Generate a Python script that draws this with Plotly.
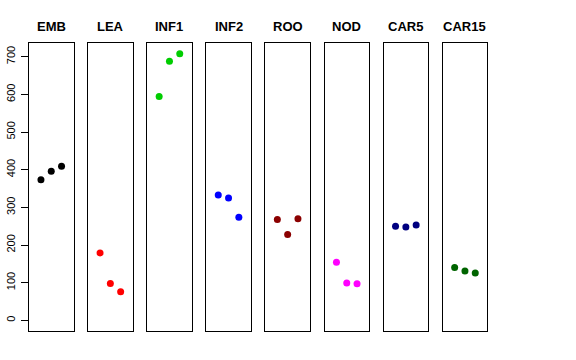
import plotly.graph_objects as go

categories = ["EMB", "LEA", "INF1", "INF2", "ROO", "NOD", "CAR5", "CAR15"]
colors = ["#000000", "#FF0000", "#00CD00", "#0000FF", "#8B0000", "#FF00FF", "#000080", "#006400"]
rep_x = [1, 2, 3]
values = {
    "EMB": [373, 396, 409],
    "LEA": [179, 98, 76],
    "INF1": [594, 688, 708],
    "INF2": [333, 325, 274],
    "ROO": [268, 228, 270],
    "NOD": [154, 99, 97],
    "CAR5": [250, 248, 253],
    "CAR15": [140, 131, 126],
}
y_ticks = [0, 100, 200, 300, 400, 500, 600, 700]

W, H = 576, 360
left0, step, width = 29.0, 59.1, 44.5
top_px, bottom_px = 43.0, 331.0
ymin, ymax = 0, 708
pad = 0.04 * (ymax - ymin)

fig = go.Figure()
layout = dict(
    width=W, height=H,
    margin=dict(l=0, r=0, t=0, b=0),
    paper_bgcolor="white", plot_bgcolor="white",
    showlegend=False,
    font=dict(family="Liberation Sans, Arial, sans-serif", color="black"),
)
annotations = []
for i, cat in enumerate(categories):
    n = "" if i == 0 else str(i + 1)
    x0 = left0 + i * step
    x1 = x0 + width
    fig.add_trace(go.Scatter(
        x=rep_x, y=values[cat], mode="markers",
        marker=dict(color=colors[i], size=7),
        xaxis="x" + n, yaxis="y" + n,
    ))
    layout["xaxis" + n] = dict(
        domain=[x0 / W, x1 / W], range=[-0.16, 4.16],
        showgrid=False, zeroline=False, showticklabels=False, ticks="",
        showline=True, mirror=True, linecolor="black", linewidth=1,
        anchor="y" + n, fixedrange=True,
    )
    ya = dict(
        domain=[(H - bottom_px) / H, (H - top_px) / H],
        range=[ymin - pad, ymax + pad],
        showgrid=False, zeroline=False,
        showline=True, mirror=True, linecolor="black", linewidth=1,
        anchor="x" + n, fixedrange=True,
    )
    if i == 0:
        ya.update(tickvals=y_ticks, ticks="outside", ticklen=7, tickcolor="black",
                  tickangle=-90, tickfont=dict(size=11, color="black"),
                  ticklabelstandoff=2)
    else:
        ya.update(showticklabels=False, ticks="")
    layout["yaxis" + n] = ya
    annotations.append(dict(
        text="<b>" + cat + "</b>", x=(x0 + x1) / 2 / W, y=(H - 27) / H,
        xref="paper", yref="paper", showarrow=False,
        xanchor="center", yanchor="middle",
        font=dict(size=13, color="black"),
    ))
layout["annotations"] = annotations
fig.update_layout(**layout)
fig.write_html("out.html", config={"displayModeBar": False},
               post_script="document.body.style.margin='0';document.body.style.overflow='hidden';")
